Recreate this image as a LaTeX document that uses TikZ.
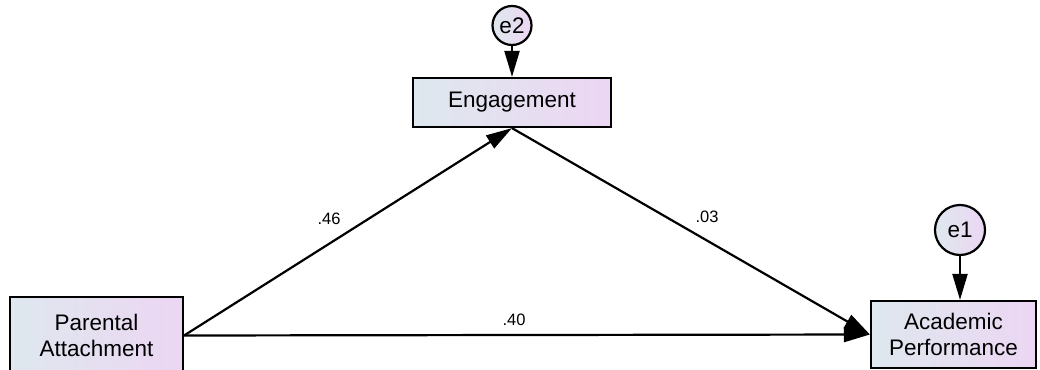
\documentclass[tikz,border=0pt]{standalone}
\usepackage{fontspec}
\setmainfont{Liberation Sans}
\usetikzlibrary{arrows.meta}
\definecolor{shadeL}{RGB}{222,232,238}
\definecolor{shadeR}{RGB}{236,214,243}
\tikzset{
  observed/.style={draw=black, line width=2.2pt, left color=shadeL, right color=shadeR,
    inner sep=0pt, align=center, font=\fontsize{22.5}{26}\selectfont},
  latent/.style={draw=black, line width=2.2pt, left color=shadeL, right color=shadeR,
    circle, inner sep=0pt, font=\fontsize{22.5}{26}\selectfont},
  path/.style={line width=2.2pt, -{Triangle[length=26pt,width=15pt]}},
  coef/.style={font=\fontsize{16.5}{18}\selectfont, inner sep=0pt}
}
\begin{document}
\begin{tikzpicture}[x=1pt,y=-1pt]
\useasboundingbox (0,0) rectangle (1040,369);
\clip (0,0) rectangle (1040,369);
\fill[white] (0,0) rectangle (1040,369);
% observed variables
\node[observed, minimum width=173pt, minimum height=77pt] (pa) at (96.5,335.5) {Parental\\Attachment};
\node[observed, minimum width=198pt, minimum height=49pt] (eng) at (512,102.5) {Engagement};
\node[observed, minimum width=165pt, minimum height=67pt] (ap) at (953.5,334.5) {Academic\\Performance};
% error terms
\node[latent, minimum size=39pt] (e2) at (512,25.5) {e2};
\node[latent, minimum size=50pt] (e1) at (960,230) {e1};
% paths
\draw[path] (e2) -- (eng);
\draw[path] (e1) -- (e1 |- ap.north);
\draw[path] (pa.east) -- (eng.south);
\draw[path] (eng.south) -- (ap.west);
\draw[path] (pa.east) -- (ap.west);
% path coefficients
\node[coef] (c46) at (329,219) {.46};
\node[coef] (c03) at (707,217) {.03};
\node[coef] (c40) at (514,320) {.40};
\end{tikzpicture}
\end{document}
